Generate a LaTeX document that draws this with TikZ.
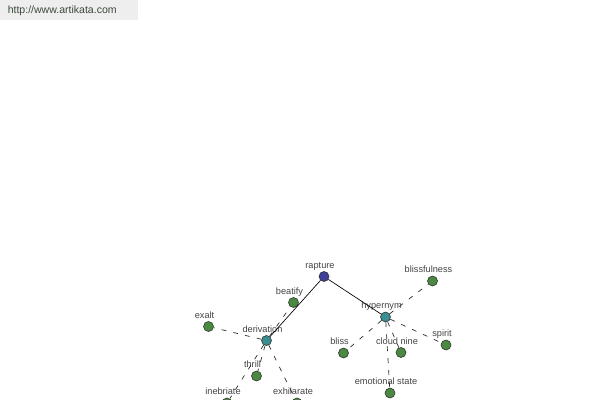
\documentclass[tikz,border=0pt]{standalone}
\usepackage{fontspec}
\setmainfont{Liberation Sans}
\definecolor{leafgreen}{HTML}{4A8A40}
\definecolor{hubteal}{HTML}{3A8E90}
\definecolor{rootblue}{HTML}{3E3E9C}
\definecolor{lblgray}{HTML}{444444}
\definecolor{hdrbg}{HTML}{EEEEEE}
\definecolor{hdrtext}{HTML}{3A4A3A}
\tikzset{
  dot/.style={circle, draw=black!80, line width=0.45pt, minimum size=7.5pt, inner sep=0pt},
  leaf/.style={dot, fill=leafgreen},
  hub/.style={dot, fill=hubteal},
  root/.style={dot, fill=rootblue},
  lbl/.style={font=\fontsize{6.9}{8}\selectfont, text=lblgray, inner sep=0pt, anchor=base},
  solidedge/.style={draw=black, line width=0.5pt},
  dashedge/.style={draw=black!85, line width=0.5pt, dash pattern=on 3.6pt off 5.4pt},
}
\newcommand\pnode[4]{\node[#1] (#2) at (#3) {};
  \node[lbl] (#2-lbl) at ([shift={(-4,-8.5)}]#2.center) {#4};}
\begin{document}
\begin{tikzpicture}[x=0.75pt, y=-0.75pt]
\useasboundingbox (0,0) rectangle (600,400);
\clip (0,0) rectangle (600,400);
\fill[white] (0,0) rectangle (600,400);
\node[fill=hdrbg, minimum width=103.5pt, minimum height=15pt, anchor=north west, inner sep=0pt] (hdr) at (0,0) {};
\node[font=\fontsize{7.9}{9}\selectfont, text=hdrtext, anchor=west, inner sep=0pt] (url) at (7.5,11) {http://www.artikata.com};

\pnode{root}{rapture}{324,276.5}{rapture}
\pnode{leaf}{beatify}{293.5,302.5}{beatify}
\pnode{hub}{hypernym}{385.5,317}{hypernym}
\pnode{leaf}{blissfulness}{432.5,281}{blissfulness}
\pnode{leaf}{exalt}{208.5,326.5}{exalt}
\pnode{hub}{derivation}{266.5,340.5}{derivation}
\pnode{leaf}{bliss}{343.5,353}{bliss}
\pnode{leaf}{cloudnine}{401,352.5}{cloud nine}
\pnode{leaf}{spirit}{446,345}{spirit}
\pnode{leaf}{thrill}{256.5,376}{thrill}
\pnode{leaf}{emotional}{390,393}{emotional state}
\pnode{leaf}{inebriate}{227,403}{inebriate}
\pnode{leaf}{exhilarate}{297,403}{exhilarate}

\draw[solidedge] (rapture) -- (derivation);
\draw[solidedge] (rapture) -- (hypernym);
\draw[dashedge] (derivation) -- (beatify);
\draw[dashedge] (derivation) -- (exalt);
\draw[dashedge] (derivation) -- (thrill);
\draw[dashedge] (derivation) -- (inebriate);
\draw[dashedge] (derivation) -- (exhilarate);
\draw[dashedge] (hypernym) -- (blissfulness);
\draw[dashedge] (hypernym) -- (bliss);
\draw[dashedge] (hypernym) -- (cloudnine);
\draw[dashedge] (hypernym) -- (spirit);
\draw[dashedge] (hypernym) -- (emotional);
\end{tikzpicture}
\end{document}
